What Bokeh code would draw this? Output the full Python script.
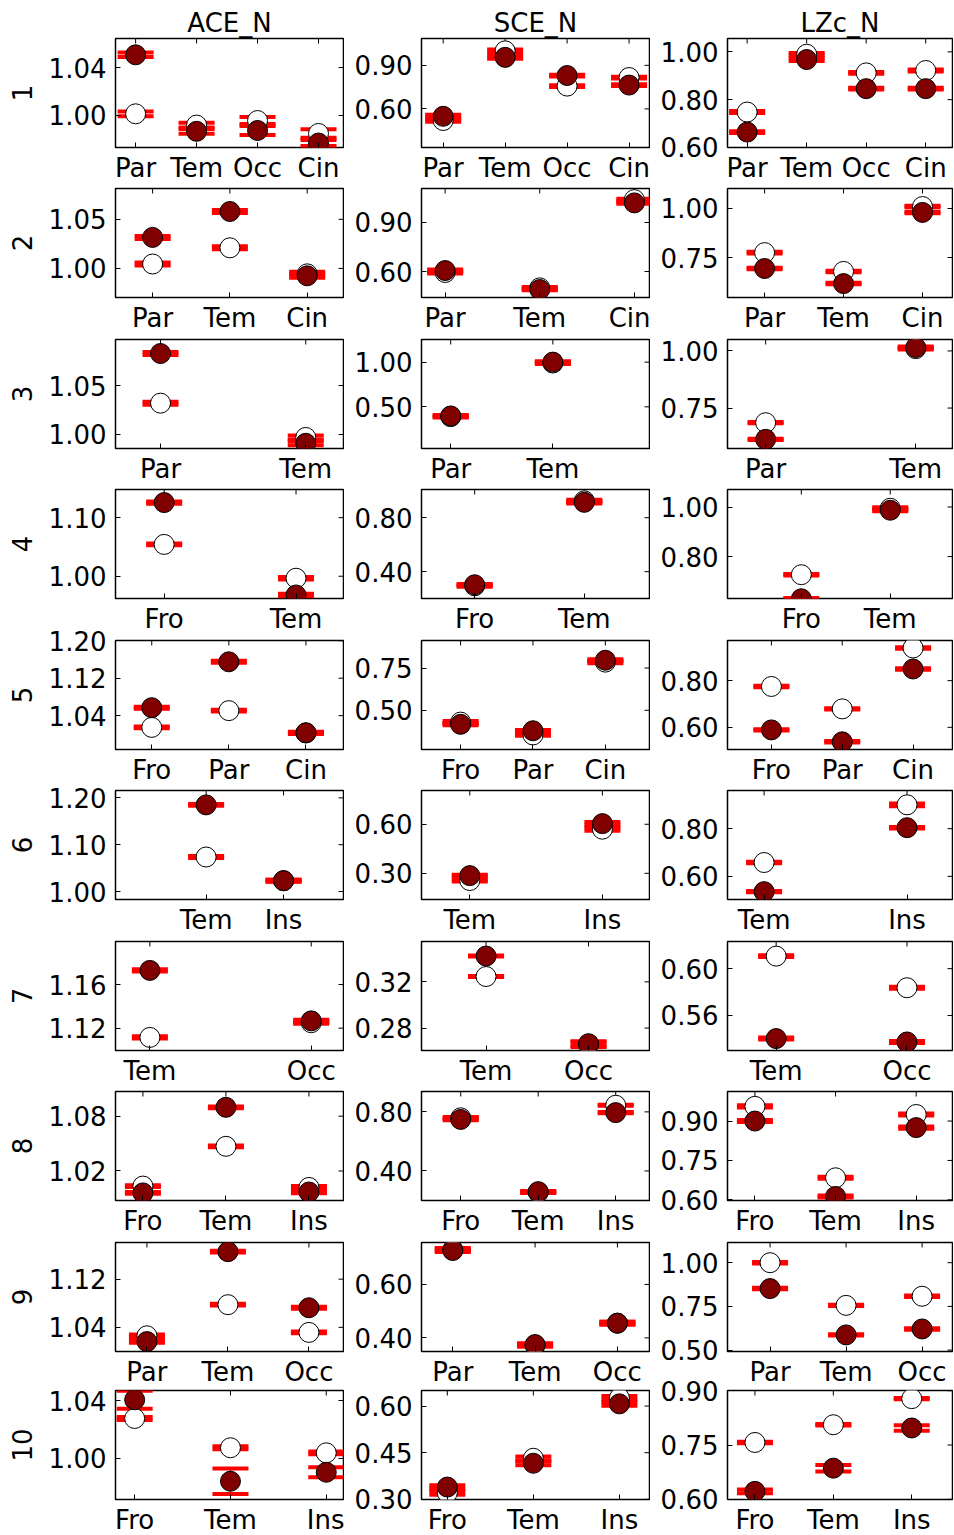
import math
from bokeh.plotting import figure
from bokeh.layouts import row, column
from bokeh.models import FixedTicker, Range1d, NumeralTickFormatter, ColumnDataSource
from bokeh.embed import file_html
from bokeh.resources import INLINE

MEASURES = ["ACE_N", "SCE_N", "LZc_N"]
ROW_LABELS = [str(i) for i in range(1, 11)]
CATEGORIES = [
    ["Par", "Tem", "Occ", "Cin"],
    ["Par", "Tem", "Cin"],
    ["Par", "Tem"],
    ["Fro", "Tem"],
    ["Fro", "Par", "Cin"],
    ["Tem", "Ins"],
    ["Tem", "Occ"],
    ["Fro", "Tem", "Ins"],
    ["Par", "Tem", "Occ"],
    ["Fro", "Tem", "Ins"],
]

# ---- ACE_N ----
ACE_WHITE = [[1.0014, 0.9920, 0.9958, 0.9850], [1.0045, 1.0210, 0.9945], [1.0320, 0.9970],
             [1.0543, 0.9966], [1.0149, 1.0507, 1.0030], [1.0737, 1.0230], [1.1115, 1.1250],
             [1.0035, 1.0470, 1.0020], [1.0259, 1.0776, 1.0315], [1.0276, 1.0074, 1.0039]]
ACE_WHITE_ERR = [[0.0020, 0.0020, 0.0030, 0.0035], [0.0015, 0.0015, 0.0020], [0.0015, 0.0020],
                 [0.0015, 0.0020], [0.0020, 0.0020, 0.0020], [0.0020, 0.0020], [0.0010, 0.0010],
                 [0.0010, 0.0010, 0.0015], [0.0020, 0.0015, 0.0015], [0.0010, 0.0010, 0.0010]]
ACE_DARK = [[1.0506, 0.9868, 0.9875, 0.9770], [1.0316, 1.0580, 0.9925], [1.0827, 0.9910],
            [1.1257, 0.9680], [1.0570, 1.1550, 1.0035], [1.1850, 1.0233], [1.1730, 1.1267],
            [0.9960, 1.0897, 0.9970], [1.0163, 1.1656, 1.0725], [1.0405, 0.9843, 0.9905]]
ACE_DARK_ERR = [[0.0019, 0.0020, 0.0038, 0.0025], [0.0015, 0.0015, 0.0020], [0.0015, 0.0020],
                [0.0020, 0.0020], [0.0020, 0.0020, 0.0020], [0.0020, 0.0020], [0.0010, 0.0010],
                [0.0010, 0.0010, 0.0015], [0.0020, 0.0015, 0.0015], [0.0062, 0.0088, 0.0035]]
ACE_YTICKS = [[1.00, 1.04], [1.00, 1.05], [1.00, 1.05], [1.00, 1.10], [1.04, 1.12, 1.20],
              [1.00, 1.10, 1.20], [1.12, 1.16], [1.02, 1.08], [1.04, 1.12], [1.00, 1.04]]

# ---- SCE_N ----
SCE_WHITE = [[0.520, 1.000, 0.757, 0.816], [0.594, 0.500, 1.040], [0.390, 0.990], [0.295, 0.925],
             [0.430, 0.354, 0.785], [0.256, 0.570], [0.3246, 0.2658], [0.760, 0.255, 0.845],
             [0.730, 0.372, 0.455], [0.321, 0.432, 0.626]]
SCE_WHITE_ERR = [[0.008, 0.010, 0.006, 0.006], [0.006, 0.005, 0.006], [0.010, 0.010], [0.006, 0.008],
                 [0.006, 0.005, 0.006], [0.006, 0.010], [0.0004, 0.0022], [0.006, 0.005, 0.004],
                 [0.006, 0.005, 0.005], [0.006, 0.006, 0.006]]
SCE_DARK = [[0.549, 0.955, 0.830, 0.764], [0.606, 0.490, 1.020], [0.398, 1.000], [0.303, 0.914],
            [0.417, 0.379, 0.796], [0.286, 0.604], [0.3423, 0.2665], [0.749, 0.260, 0.795],
            [0.727, 0.375, 0.455], [0.3395, 0.416, 0.607]]
SCE_DARK_ERR = [[0.010, 0.010, 0.006, 0.006], [0.006, 0.005, 0.006], [0.010, 0.010], [0.006, 0.008],
                [0.006, 0.005, 0.006], [0.006, 0.010], [0.0004, 0.0020], [0.006, 0.005, 0.004],
                [0.006, 0.005, 0.005], [0.006, 0.006, 0.006]]
SCE_YTICKS = [[0.60, 0.90], [0.60, 0.90], [0.50, 1.00], [0.40, 0.80], [0.50, 0.75],
              [0.30, 0.60], [0.28, 0.32], [0.40, 0.80], [0.40, 0.60], [0.30, 0.45, 0.60]]

# ---- LZc_N ----
LZC_WHITE = [[0.748, 0.990, 0.912, 0.922], [0.775, 0.679, 1.010], [0.686, 1.010], [0.727, 0.995],
             [0.775, 0.679, 0.940], [0.658, 0.900], [0.6107, 0.5837], [0.956, 0.684, 0.925],
             [1.000, 0.756, 0.808], [0.757, 0.806, 0.878]]
LZC_WHITE_ERR = [[0.004, 0.005, 0.004, 0.004], [0.004, 0.004, 0.004], [0.003, 0.004], [0.003, 0.004],
                 [0.003, 0.003, 0.003], [0.003, 0.006], [0.0008, 0.0008], [0.004, 0.004, 0.004],
                 [0.004, 0.004, 0.004], [0.002, 0.002, 0.002]]
LZC_DARK = [[0.664, 0.968, 0.846, 0.846], [0.694, 0.617, 0.980], [0.613, 1.015], [0.630, 0.987],
            [0.589, 0.538, 0.850], [0.536, 0.804], [0.5403, 0.5374], [0.900, 0.613, 0.875],
            [0.852, 0.587, 0.621], [0.622, 0.686, 0.797]]
LZC_DARK_ERR = [[0.004, 0.006, 0.004, 0.004], [0.004, 0.004, 0.004], [0.003, 0.004], [0.003, 0.004],
                [0.003, 0.003, 0.003], [0.003, 0.003], [0.0008, 0.0008], [0.004, 0.004, 0.004],
                [0.004, 0.004, 0.004], [0.005, 0.009, 0.0075]]
LZC_YTICKS = [[0.60, 0.80, 1.00], [0.75, 1.00], [0.75, 1.00], [0.80, 1.00], [0.60, 0.80],
              [0.60, 0.80], [0.56, 0.60], [0.60, 0.75, 0.90], [0.50, 0.75, 1.00], [0.60, 0.75, 0.90]]

# ---- layout: axis limits of every panel ----
ACE_YLIM = [(0.9733, 1.0642), (0.9704, 1.0814), (0.9857, 1.097), (0.962, 1.148), (0.9677, 1.2005),
            (0.983, 1.2157), (1.0995, 1.1995), (0.9877, 1.107), (0.9998, 1.1809), (0.9717, 1.0469)]
SCE_YLIM = [(0.334, 1.085), (0.441, 1.108), (0.034, 1.253), (0.201, 1.009), (0.268, 0.913),
            (0.140, 0.8065), (0.2606, 0.3549), (0.20, 0.938), (0.349, 0.757), (0.2995, 0.650)]
LZC_YLIM = [(0.5995, 1.056), (0.546, 1.102), (0.573, 1.05), (0.631, 1.0706), (0.505, 0.972),
            (0.503, 0.96), (0.5301, 0.6232), (0.5975, 1.0125), (0.492, 1.1155), (0.5995, 0.9005)]
ACE_XPAD = [(0.33, 0.41), (0.48, 0.47), (0.31, 0.26), (0.369, 0.36), (0.47, 0.487),
            (1.17, 0.774), (0.213, 0.2), (0.33, 0.416), (0.388, 0.427), (0.2, 0.18)]
SCE_XPAD = [(0.35, 0.33), (0.25, 0.16), (0.286, 0.946), (0.485, 0.595), (0.54, 0.61),
            (0.364, 0.355), (0.63, 0.595), (0.506, 0.436), (0.38, 0.39), (0.3, 0.35)]
LZC_XPAD = [(0.33, 0.45), (0.47, 0.38), (0.254, 0.245), (0.83, 0.70), (0.62, 0.557),
            (0.256, 0.318), (0.372, 0.348), (0.34, 0.45), (0.56, 0.40), (0.35, 0.52)]

SERIES = [
    (ACE_WHITE, ACE_WHITE_ERR, ACE_DARK, ACE_DARK_ERR, ACE_YTICKS, ACE_YLIM, ACE_XPAD),
    (SCE_WHITE, SCE_WHITE_ERR, SCE_DARK, SCE_DARK_ERR, SCE_YTICKS, SCE_YLIM, SCE_XPAD),
    (LZC_WHITE, LZC_WHITE_ERR, LZC_DARK, LZC_DARK_ERR, LZC_YTICKS, LZC_YLIM, LZC_XPAD),
]

# frame geometry (pixels)
FRAME_TOPS = [38, 188, 339, 489, 640, 790, 941, 1091, 1242, 1390]
FH = 109
FWS = [228, 228, 225]
LEFT = [115, 77, 77]
TOP_PAD = 16        # transparent room above each lower panel for edge tick labels
BOTTOM_PAD = 40
FONT = "DejaVu Sans"
DARK = "#800000"
CAP = "#ff0000"


def style_axis(ax, standoff):
    ax.major_tick_in = 5
    ax.major_tick_out = 0
    ax.minor_tick_line_color = None
    ax.axis_line_color = None
    ax.major_tick_line_color = "black"
    ax.major_tick_line_width = 1
    ax.major_label_text_font = FONT
    ax.major_label_text_font_size = "26px"
    ax.major_label_text_color = "black"
    ax.major_label_standoff = standoff


def panel(r, c):
    white, werr, dark, derr, yticks, ylim, xpad = SERIES[c]
    cats = CATEGORIES[r]
    n = len(cats)
    lp, rp = xpad[r]
    x_end = n - 1 + rp
    y_start, y_end = ylim[r]
    p = figure(
        frame_width=FWS[c], frame_height=FH, toolbar_location=None, output_backend="svg",
        x_range=Range1d(-lp, x_end), y_range=Range1d(y_start, y_end),
        min_border_left=LEFT[c], min_border_right=1,
        min_border_top=FRAME_TOPS[0] if r == 0 else TOP_PAD,
        min_border_bottom=36 if r == 9 else BOTTOM_PAD,
        title=MEASURES[c] if r == 0 else None,
    )
    if r == 0:
        p.title.text_font = FONT
        p.title.text_font_size = "26px"
        p.title.text_font_style = "normal"
        p.title.text_color = "black"
        p.title.align = "center"
        p.title.standoff = 2
    p.xgrid.visible = False
    p.ygrid.visible = False
    p.outline_line_color = "black"
    p.outline_line_width = 1.5
    p.outline_line_alpha = 1.0
    p.background_fill_color = "white"
    p.border_fill_color = None

    p.xaxis.ticker = FixedTicker(ticks=list(range(n)))
    p.xaxis.major_label_overrides = {i: cat for i, cat in enumerate(cats)}
    p.yaxis.ticker = FixedTicker(ticks=yticks[r])
    p.yaxis.formatter = NumeralTickFormatter(format="0.00")
    for ax in p.xaxis:
        style_axis(ax, 5)
    for ax in p.yaxis:
        style_axis(ax, 9)
    if c == 0:
        p.yaxis.axis_label = ROW_LABELS[r]
        p.yaxis.axis_label_text_font = FONT
        p.yaxis.axis_label_text_font_size = "26px"
        p.yaxis.axis_label_text_font_style = "normal"
        p.yaxis.axis_label_text_color = "black"
        p.yaxis.axis_label_standoff = 14

    # mirrored inward ticks on the right and top edges (half of each dash is clipped by the frame)
    p.scatter(x=[x_end] * len(yticks[r]), y=yticks[r], marker="dash", size=10,
              line_color="black", line_width=1)
    p.scatter(x=list(range(n)), y=[y_end] * n, marker="dash", angle=math.pi / 2, size=10,
              line_color="black", line_width=1)

    w, we, d, de = white[r], werr[r], dark[r], derr[r]
    src = ColumnDataSource(dict(
        x=list(range(n)), w=w, d=d,
        wlo=[m - e for m, e in zip(w, we)], whi=[m + e for m, e in zip(w, we)],
        dlo=[m - e for m, e in zip(d, de)], dhi=[m + e for m, e in zip(d, de)],
    ))
    p.segment(x0="x", y0="wlo", x1="x", y1="whi", source=src, line_color="black", line_width=1)
    p.segment(x0="x", y0="dlo", x1="x", y1="dhi", source=src, line_color="black", line_width=1)
    for col in ("wlo", "whi", "dlo", "dhi"):
        p.scatter("x", col, source=src, marker="dash", size=36, line_color=CAP, line_width=4)
    p.scatter("x", "w", source=src, size=20, fill_color="white", line_color="black", line_width=1)
    p.scatter("x", "d", source=src, size=20, fill_color=DARK, line_color="black", line_width=1)
    return p


rows = []
for r in range(10):
    figs = [panel(r, c) for c in range(3)]
    if r == 0:
        rows.append(row(*figs))
    else:
        gap = FRAME_TOPS[r] - FRAME_TOPS[r - 1] - (FH + BOTTOM_PAD + TOP_PAD)
        rows.append(row(*figs, margin=(gap, 0, 0, 0)))
layout = column(*rows)

open("out.html", "w").write(file_html(layout, INLINE))
